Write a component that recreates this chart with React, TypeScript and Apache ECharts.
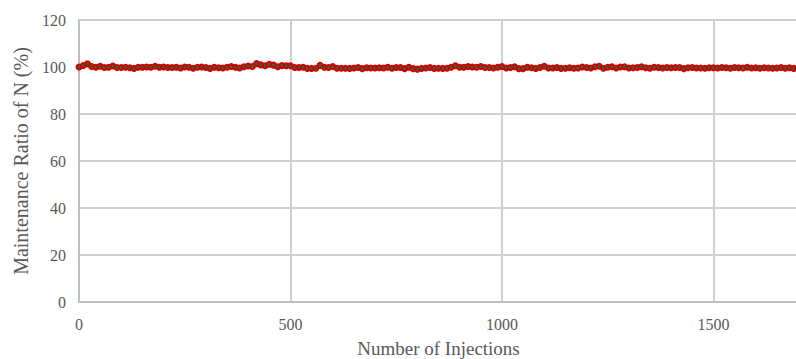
import React, { useEffect, useRef } from "react";
import * as echarts from "echarts";

const injections: number[] = [];
for (let i = 0; i <= 1700; i += 10) injections.push(i);

const ratioN: number[] = [
  100.0, 100.6, 101.4, 100.2, 99.9, 100.3, 99.8, 99.9, 100.4, 99.8,
  99.8, 99.9, 99.7, 99.4, 99.9, 99.9, 100.0, 99.9, 100.3, 99.9,
  100.0, 99.8, 99.8, 99.9, 99.6, 100.0, 99.9, 99.5, 99.9, 100.0,
  99.8, 99.4, 99.9, 99.7, 99.6, 99.9, 100.2, 99.9, 99.6, 100.1,
  100.4, 100.2, 101.5, 100.9, 100.5, 101.2, 100.8, 100.1, 100.6, 100.5,
  100.5, 99.8, 99.8, 99.9, 99.4, 99.4, 99.5, 100.7, 99.9, 99.8,
  100.2, 99.5, 99.5, 99.5, 99.4, 99.6, 99.8, 99.3, 99.7, 99.6,
  99.6, 99.7, 99.6, 99.9, 99.5, 99.8, 99.8, 99.3, 99.9, 99.3,
  99.1, 99.4, 99.6, 99.8, 99.4, 99.5, 99.4, 99.5, 99.9, 100.5,
  99.9, 99.9, 100.2, 100.0, 99.9, 100.2, 99.8, 99.8, 99.6, 99.9,
  100.2, 99.6, 99.8, 100.1, 99.3, 99.3, 99.9, 99.7, 99.4, 99.8,
  100.3, 99.6, 99.6, 99.8, 99.4, 99.5, 99.7, 99.5, 99.6, 100.0,
  99.8, 99.6, 100.1, 100.3, 99.5, 99.9, 100.1, 99.6, 100.0, 100.1,
  99.6, 99.7, 99.8, 100.1, 99.7, 99.5, 99.9, 99.8, 99.6, 99.8,
  99.7, 99.8, 99.8, 99.3, 99.7, 99.8, 99.6, 99.6, 99.5, 99.7,
  99.7, 99.6, 99.8, 99.7, 99.5, 99.8, 99.7, 99.6, 99.9, 99.6,
  99.7, 99.5, 99.7, 99.6, 99.5, 99.6, 99.8, 99.5, 99.7, 99.4,
  99.5,
];

const xTicks = [0, 500, 1000, 1500];
const yTicks = [0, 20, 40, 60, 80, 100, 120];

export default function App() {
  const ref = useRef<HTMLDivElement>(null);
  useEffect(() => {
    if (!ref.current) return;
    const chart = echarts.init(ref.current, null, { renderer: "svg" });
    const font = "Liberation Serif";
    const label = (fmt: (v: number) => string, margin: number, extra: object = {}) => ({
      fontFamily: font,
      fontSize: 16,
      color: "#595959",
      margin,
      formatter: fmt,
      ...extra,
    });
    chart.setOption({
      animation: false,
      textStyle: { fontFamily: font, fontSize: 16 },
      grid: { left: 79, right: -2, top: 20, bottom: 57, outerBoundsMode: "none", containLabel: false },
      xAxis: {
        type: "value",
        min: 0,
        max: 1700,
        interval: 500,
        name: "Number of Injections",
        nameLocation: "middle",
        nameGap: 37,
        nameTextStyle: { fontFamily: font, fontSize: 19, color: "#595959" },
        axisLine: { show: true, lineStyle: { color: "#bfbfbf", width: 2 } },
        axisTick: { show: false },
        axisLabel: label((v: number) => (xTicks.includes(v) ? String(v) : ""), 14, { showMaxLabel: false }),
        splitLine: { show: true, lineStyle: { color: "#d0d0d0", width: 2 } },
      },
      yAxis: {
        type: "value",
        min: 0,
        max: 120,
        interval: 20,
        name: "Maintenance Ratio of N (%)",
        nameLocation: "middle",
        nameGap: 44,
        nameTextStyle: { fontFamily: font, fontSize: 20, color: "#595959" },
        axisLine: { show: true, lineStyle: { color: "#bfbfbf", width: 2 } },
        axisTick: { show: false },
        axisLabel: label((v: number) => (yTicks.includes(v) ? String(v) : ""), 13),
        splitLine: { show: true, lineStyle: { color: "#d0d0d0", width: 2 } },
      },
      series: [
        {
          type: "line",
          data: injections.map((x, i) => [x, ratioN[i]]),
          symbol: "circle",
          symbolSize: 5,
          lineStyle: { color: "#e00000", width: 2 },
          itemStyle: { color: "#1f6f3f", borderColor: "#d40000", borderWidth: 2 },
        },
      ],
    });
    return () => chart.dispose();
  }, []);
  return <div ref={ref} style={{ width: 796, height: 359, position: "absolute", left: 0, top: 0 }} />;
}
